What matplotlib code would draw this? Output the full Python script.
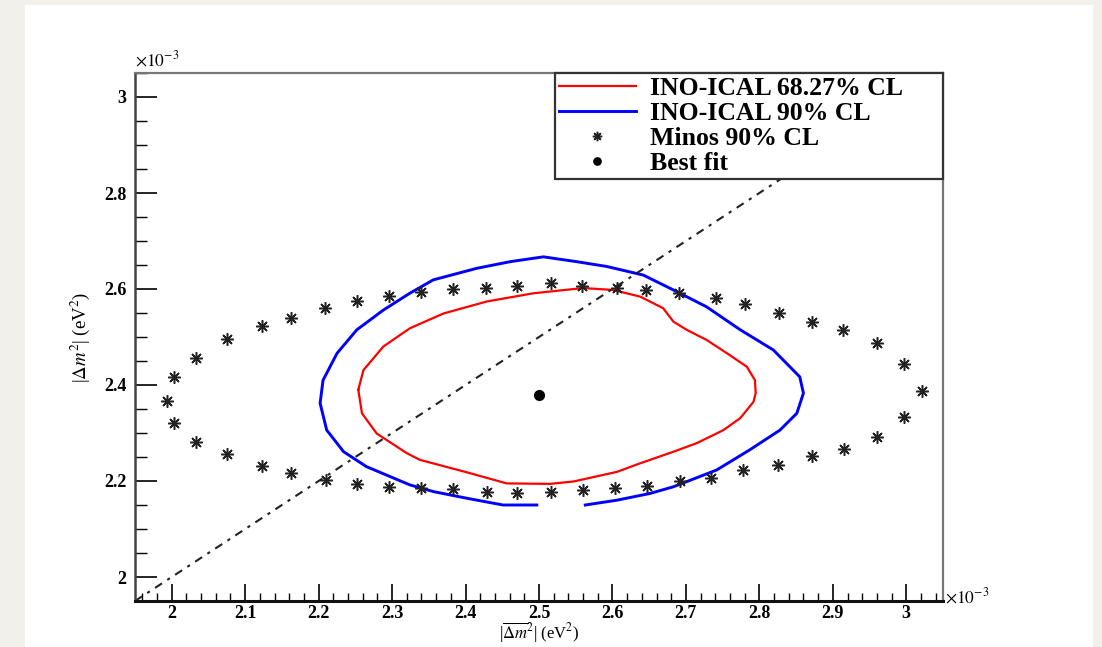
import numpy as np
import matplotlib.pyplot as plt
from matplotlib.patches import Rectangle
from matplotlib.ticker import MultipleLocator, FormatStrFormatter

plt.rcParams['font.family'] = ['Liberation Serif', 'DejaVu Serif']
plt.rcParams['mathtext.fontset'] = 'stix'

# all mass splittings in units of 1e-3 eV^2
# INO-ICAL 68.27% CL contour (closed)
red_x = [2.254, 2.261, 2.288, 2.324, 2.370, 2.429, 2.492, 2.560, 2.601, 2.638,
         2.669, 2.683, 2.701, 2.728, 2.756, 2.783, 2.794, 2.795, 2.792, 2.774,
         2.751, 2.715, 2.683, 2.638, 2.606, 2.547, 2.515, 2.456, 2.402, 2.338,
         2.320, 2.279, 2.259, 2.254]
red_y = [2.390, 2.431, 2.480, 2.518, 2.549, 2.574, 2.591, 2.602, 2.598, 2.584,
         2.560, 2.532, 2.515, 2.494, 2.466, 2.438, 2.410, 2.383, 2.365, 2.331,
         2.306, 2.279, 2.261, 2.237, 2.219, 2.199, 2.194, 2.195, 2.218, 2.244,
         2.258, 2.299, 2.341, 2.390]

# INO-ICAL 90% CL contour (open at the bottom)
blue_x = [2.563, 2.606, 2.651, 2.683, 2.742, 2.787, 2.828, 2.851, 2.860, 2.855,
          2.819, 2.774, 2.728, 2.683, 2.642, 2.592, 2.551, 2.506, 2.461, 2.415,
          2.356, 2.324, 2.288, 2.252, 2.225, 2.206, 2.202, 2.211, 2.234, 2.265,
          2.324, 2.356, 2.402, 2.451, 2.497]
blue_y = [2.150, 2.160, 2.174, 2.188, 2.223, 2.265, 2.306, 2.341, 2.383, 2.417,
          2.473, 2.515, 2.563, 2.598, 2.629, 2.647, 2.657, 2.667, 2.657, 2.643,
          2.619, 2.591, 2.556, 2.515, 2.466, 2.410, 2.362, 2.306, 2.261, 2.230,
          2.192, 2.178, 2.164, 2.150, 2.150]

# Minos 90% CL points
minos_x = [1.994, 2.003, 2.033, 2.075, 2.123, 2.163, 2.209, 2.252, 2.296, 2.339,
           2.383, 2.428, 2.470, 2.517, 2.558, 2.606, 2.646, 2.691, 2.741, 2.781,
           2.827, 2.871, 2.914, 2.960, 2.997, 3.021, 2.997, 2.960, 2.915, 2.871,
           2.826, 2.778, 2.734, 2.692, 2.647, 2.604, 2.560, 2.517, 2.470, 2.429,
           2.383, 2.340, 2.296, 2.252, 2.210, 2.163, 2.123, 2.075, 2.033, 2.003]
minos_y = [2.367, 2.417, 2.456, 2.496, 2.523, 2.540, 2.560, 2.576, 2.585, 2.594,
           2.600, 2.603, 2.606, 2.612, 2.606, 2.602, 2.597, 2.591, 2.581, 2.569,
           2.551, 2.532, 2.515, 2.487, 2.443, 2.388, 2.334, 2.292, 2.267, 2.252,
           2.233, 2.222, 2.206, 2.199, 2.190, 2.185, 2.181, 2.178, 2.174, 2.178,
           2.183, 2.185, 2.188, 2.194, 2.202, 2.217, 2.231, 2.256, 2.282, 2.321]

best_x = [2.50]
best_y = [2.38]

# equal-splitting reference line
diag = [1.95, 3.05]

fig = plt.figure(figsize=(11.02, 6.47), dpi=100, facecolor='#f2f0eb')
fig.patches.append(Rectangle((25 / 1102, 0), 1068 / 1102, 642 / 647,
                             transform=fig.transFigure, facecolor='white',
                             edgecolor='none', zorder=-10))
ax = fig.add_axes([135 / 1102, 1 - 601 / 647, 808 / 1102, 528 / 647])
ax.set_zorder(1)

ax.plot(red_x, red_y, color='#ff0000', lw=1.6, label='INO-ICAL 68.27% CL')
ax.plot(blue_x, blue_y, color='#0000ff', lw=2.1, label='INO-ICAL 90% CL')
ax.plot(minos_x, minos_y, ls='none', marker=(8, 2, 0), ms=9, mew=1.1,
        color='#222222', label='Minos 90% CL')
ax.plot(diag, diag, color='#222222', lw=1.5, ls=(0, (4, 3, 1.5, 3)))
ax.plot(best_x, best_y, ls='none', marker='o', ms=7, color='black',
        label='Best fit')

ax.set_xlim(1.95, 3.05)
ax.set_ylim(1.95, 3.05)

ax.xaxis.set_major_locator(MultipleLocator(0.1))
ax.xaxis.set_minor_locator(MultipleLocator(0.02))
ax.yaxis.set_major_locator(MultipleLocator(0.2))
ax.yaxis.set_minor_locator(MultipleLocator(0.05))
ax.xaxis.set_major_formatter(FormatStrFormatter('%g'))
ax.yaxis.set_major_formatter(FormatStrFormatter('%g'))

ax.tick_params(axis='x', which='major', direction='in', length=12, width=1.2,
               pad=3, labelsize=13)
ax.tick_params(axis='x', which='minor', direction='in', length=6, width=1.0)
ax.tick_params(axis='y', which='major', direction='in', length=16, width=1.2,
               pad=6, labelsize=13)
ax.tick_params(axis='y', which='minor', direction='in', length=8.5, width=1.0)
for lab in ax.get_xticklabels() + ax.get_yticklabels():
    lab.set_fontweight('bold')

for side in ['top', 'right']:
    ax.spines[side].set_color('#777777')
    ax.spines[side].set_linewidth(1.6)
ax.spines['left'].set_color('#444444')
ax.spines['left'].set_linewidth(1.8)
ax.spines['bottom'].set_color('#111111')
ax.spines['bottom'].set_linewidth(2.2)

ax.set_xlabel(r'|$\overline{\Delta m}^{2}$| (eV$^{2}$)', fontsize=12,
              va='bottom')
ax.xaxis.set_label_coords(0.5, -0.083)
ax.set_ylabel(r'|$\Delta m^{2}$| (eV$^{2}$)', fontsize=13.5, labelpad=9)

ax.text(0.0, 1.005, r'$\times10^{-3}$', transform=ax.transAxes, fontsize=12.5,
        ha='left', va='bottom')
ax.text(1.002, -0.012, r'$\times10^{-3}$', transform=ax.transAxes, fontsize=12.5,
        ha='left', va='bottom')

leg = ax.legend(loc='upper left', bbox_to_anchor=(0.5198, 0.0, 0.4802, 1.0),
                mode='expand', labelspacing=0.08, handlelength=3.0,
                handletextpad=0.55, borderpad=0.15, borderaxespad=0.0,
                fancybox=False, framealpha=1.0, edgecolor='#333333',
                prop={'weight': 'bold', 'size': 18.5}, markerscale=0.75)
leg.get_frame().set_linewidth(1.6)

fig.savefig('out.png', dpi=100, facecolor=fig.get_facecolor())
